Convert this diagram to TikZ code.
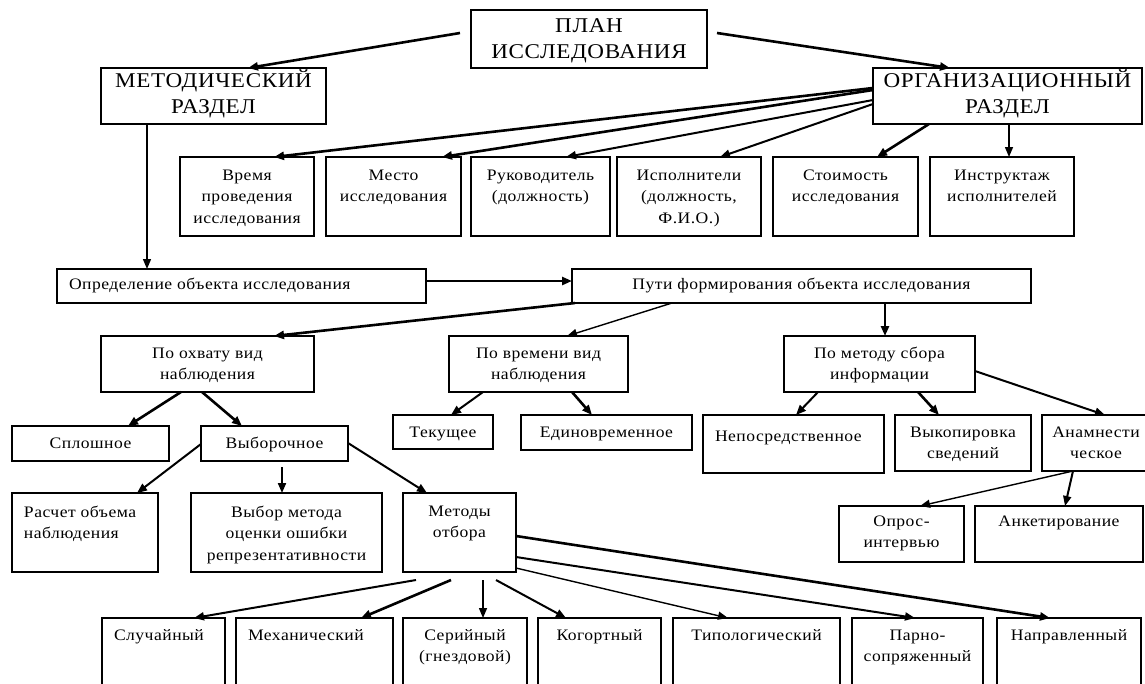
\documentclass[tikz,border=0pt]{standalone}
\usepackage{fontspec}
\setmainfont{Liberation Serif}[FakeStretch=1.1,LetterSpace=3]
\usetikzlibrary{arrows.meta,calc}
\newcommand\AlC{\centering}
\newcommand\AlL{\raggedright\leftskip=12pt}
% style, name, x1, y1, x2, y2, top pad, alignment, text
\newcommand\bx[9]{\node[box,#1] (#2) at (#3,#4) {\parbox[c][\fpeval{#6-#4}pt][t]{\fpeval{#5-#3}pt}{\vspace*{#7pt}#8\strut#9\par}};}
\tikzset{
  box/.style={draw, line width=1.5pt, inner sep=0pt, outer sep=0pt, anchor=north west, font=\fontsize{16}{21.5}\selectfont},
  body/.style={},
  title/.style={font=\fontsize{21}{25.5}\selectfont},
  arr/.style={draw, line width=2pt, -{Triangle[length=10pt,width=8pt]}},
  thinarr/.style={line width=1.4pt},
  thickarr/.style={line width=2.6pt}
}
\begin{document}
\begin{tikzpicture}[x=1pt,y=-1pt]
\clip (0,0) rectangle (1145,683);
\fill[white] (0,0) rectangle (1145,683);
% top level
\bx{title}{plan}{471}{10}{707}{68}{5}{\AlC}{ПЛАН\\ИССЛЕДОВАНИЯ}
\bx{title}{met}{101}{68}{326}{124}{2}{\AlC}{МЕТОДИЧЕСКИЙ\\РАЗДЕЛ}
\bx{title}{org}{873}{68}{1142}{124}{2}{\AlC}{ОРГАНИЗАЦИОННЫЙ\\РАЗДЕЛ}
% organisational row
\bx{body}{vremya}{180}{157}{314}{236}{8}{\AlC}{Время\\проведения\\исследования}
\bx{body}{mesto}{326}{157}{461}{236}{8}{\AlC}{Место\\исследования}
\bx{body}{ruk}{471}{157}{610}{236}{8}{\AlC}{Руководитель\\(должность)}
\bx{body}{isp}{617}{157}{761}{236}{8}{\AlC}{Исполнители\\(должность,\\Ф.И.О.)}
\bx{body}{stoim}{773}{157}{918}{236}{8}{\AlC}{Стоимость\\исследования}
\bx{body}{instr}{930}{157}{1074}{236}{8}{\AlC}{Инструктаж\\исполнителей}
% object
\bx{body}{opr}{57}{269}{426}{303}{5}{\AlL}{Определение объекта исследования}
\bx{body}{puti}{572}{269}{1031}{303}{5}{\AlC}{Пути формирования объекта исследования}
% kinds
\bx{body}{ohv}{101}{336}{314}{392}{7}{\AlC}{По охвату вид\\наблюдения}
\bx{body}{vrem}{449}{336}{628}{392}{7}{\AlC}{По времени вид\\наблюдения}
\bx{body}{metod}{784}{336}{975}{392}{7}{\AlC}{По методу сбора\\информации}
\bx{body}{splosh}{12}{426}{169}{461}{7}{\AlC}{Сплошное}
\bx{body}{vyb}{201}{426}{348}{461}{7}{\AlC}{Выборочное}
\bx{body}{tek}{393}{415}{493}{449}{7}{\AlC}{Текущее}
\bx{body}{edin}{521}{415}{692}{450}{7}{\AlC}{Единовременное}
\bx{body}{nep}{703}{415}{884}{473}{11}{\AlL}{Непосредственное}
\bx{body}{vyk}{895}{415}{1031}{471}{7}{\AlC}{Выкопировка\\сведений}
\bx{body}{anamn}{1042}{415}{1150}{471}{7}{\AlC}{Анамнести\\ческое}
\bx{body}{rasch}{12}{493}{158}{572}{9}{\AlL}{Расчет объема\\наблюдения}
\bx{body}{vybor}{191}{493}{382}{572}{9}{\AlC}{Выбор метода\\оценки ошибки\\репрезентативности}
\bx{body}{mo}{403}{493}{516}{572}{8}{\AlC}{Методы\\отбора}
\bx{body}{opros}{839}{506}{964}{562}{5}{\AlC}{Опрос-\\интервью}
\bx{body}{anket}{975}{506}{1143}{562}{5}{\AlC}{Анкетирование}
% selection methods
\bx{body}{sluch}{102}{618}{225}{700}{7}{\AlL}{Случайный}
\bx{body}{mekh}{236}{618}{393}{700}{7}{\AlL}{Механический}
\bx{body}{ser}{403}{618}{527}{700}{7}{\AlC}{Серийный\\(гнездовой)}
\bx{body}{kog}{538}{618}{661}{700}{7}{\AlC}{Когортный}
\bx{body}{tip}{673}{618}{840}{700}{7}{\AlC}{Типологический}
\bx{body}{parno}{852}{618}{983}{700}{7}{\AlC}{Парно-\\сопряженный}
\bx{body}{napr}{997}{618}{1141}{700}{7}{\AlC}{Направленный}
% connectors
\draw[arr,thickarr] ($(plan.north west)+(-11,23)$) -- ($(met.north west)+(147,0)$);
\draw[arr,thickarr] ($(plan.north east)+(10,23)$) -- ($(org.north west)+(77,0)$);
\draw[arr,thickarr] ($(org.north west)+(0,20)$) -- ($(vremya.north west)+(94,0)$);
\draw[arr,thickarr] ($(org.north west)+(0,22)$) -- ($(mesto.north west)+(116,0)$);
\draw[arr] ($(org.north west)+(0,32)$) -- ($(ruk.north west)+(95,0)$);
\draw[arr] ($(org.north west)+(0,36)$) -- ($(isp.north west)+(103,0)$);
\draw[arr,thickarr] ($(org.south west)+(56,0)$) -- ($(stoim.north west)+(104,0)$);
\draw[arr,thinarr] ($(org.south west)+(136,0)$) -- ($(instr.north west)+(79,0)$);
\draw[arr,thinarr] ($(met.south west)+(46,0)$) -- ($(opr.north west)+(90,0)$);
\draw[arr,thickarr] ($(opr.north east)+(0,12)$) -- ($(puti.north west)+(0,12)$);
\draw[arr,thickarr] ($(puti.south west)+(3,0)$) -- ($(ohv.north west)+(173,0)$);
\draw[arr,thinarr] ($(puti.south west)+(100,0)$) -- ($(vrem.north west)+(118,0)$);
\draw[arr,thickarr] ($(puti.south west)+(313,0)$) -- ($(metod.north west)+(101,0)$);
\draw[arr,thickarr] ($(ohv.south west)+(80,0)$) -- ($(splosh.north west)+(116,0)$);
\draw[arr,thickarr] ($(ohv.south west)+(101,0)$) -- ($(vyb.north west)+(41,0)$);
\draw[arr] ($(vrem.south west)+(34,0)$) -- ($(tek.north west)+(58,0)$);
\draw[arr,thickarr] ($(vrem.south west)+(123,0)$) -- ($(edin.north west)+(71,0)$);
\draw[arr] ($(metod.south west)+(34,0)$) -- ($(nep.north west)+(93,0)$);
\draw[arr,thickarr] ($(metod.south west)+(134,0)$) -- ($(vyk.north west)+(44,0)$);
\draw[arr] ($(metod.north east)+(0,35)$) -- ($(anamn.north west)+(63,0)$);
\draw[arr,thinarr] ($(anamn.south west)+(31,0)$) -- ($(opros.north west)+(81,0)$);
\draw[arr] ($(anamn.south west)+(31,0)$) -- ($(anket.north west)+(90,0)$);
\draw[arr] ($(vyb.north west)+(0,18)$) -- ($(rasch.north west)+(125,0)$);
\draw[arr] ($(vyb.south west)+(81,6)$) -- ($(vybor.north west)+(91,0)$);
\draw[arr] ($(vyb.north east)+(0,17)$) -- ($(mo.north west)+(24,0)$);
\draw[arr] ($(mo.south west)+(13,8)$) -- ($(sluch.north west)+(92,0)$);
\draw[arr,thickarr] ($(mo.south west)+(48,8)$) -- ($(mekh.north west)+(125,0)$);
\draw[arr,thinarr] ($(mo.south west)+(80,8)$) -- ($(ser.north west)+(80,0)$);
\draw[arr] ($(mo.south west)+(93,8)$) -- ($(kog.north west)+(28,0)$);
\draw[arr,thinarr] ($(mo.north east)+(0,75)$) -- ($(tip.north west)+(55,0)$);
\draw[arr] ($(mo.north east)+(0,64)$) -- ($(parno.north west)+(63,0)$);
\draw[arr,thickarr] ($(mo.north east)+(0,43)$) -- ($(napr.north west)+(53,0)$);
\end{tikzpicture}
\end{document}
